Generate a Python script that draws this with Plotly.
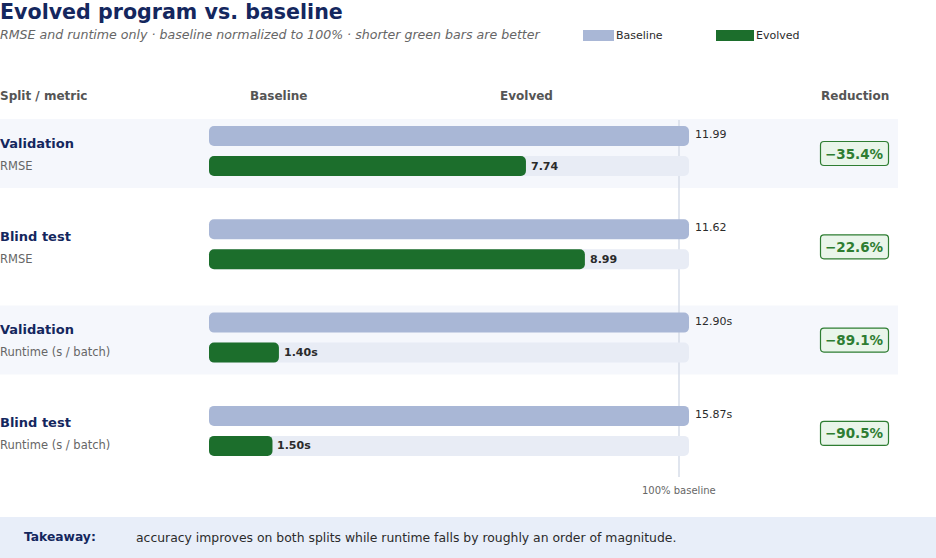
import plotly.graph_objects as go

# ---------------- data ----------------
splits = ["Validation", "Blind test", "Validation", "Blind test"]
metrics = ["RMSE", "RMSE", "Runtime (s / batch)", "Runtime (s / batch)"]
baseline_vals = [11.99, 11.62, 12.90, 15.87]
evolved_vals = [7.74, 8.99, 1.40, 1.50]
units = ["", "", "s", "s"]
legend_names = ["Baseline", "Evolved"]
column_headers = ["Split / metric", "Baseline", "Evolved", "Reduction"]
title_text = "Evolved program vs. baseline"
subtitle_text = ("RMSE and runtime only · baseline normalized to 100% · "
                 "shorter green bars are better")
takeaway_label = "Takeaway:"
takeaway_text = ("accuracy improves on both splits while runtime falls by "
                 "roughly an order of magnitude.")
baseline_line_label = "100% baseline"

# ---------------- style ----------------
W, H = 936, 558
FONT = "DejaVu Sans"
NAVY = "#14275e"
GREY = "#666666"
HDR = "#555555"
DARK = "#2b2b2b"
C_BASE = "#a9b7d6"
C_EVO = "#1c6e2c"
C_TRACK = "#e8ecf5"
C_BAND = "#f5f7fc"
C_LINE = "#d6dce9"
C_BADGE_BG = "#e9f5ea"
C_BADGE_BD = "#2e7d32"
C_TAKE = "#e8eef9"

PX_PER_PCT = 4.6          # horizontal scale
ZERO_PX = 219             # pixel of 0 %
CAP = 10 / PX_PER_PCT     # round-cap extension of bars (in % units)
ROW_PX = 93.3             # vertical spacing of rows
ROW0_PX = 153.5           # pixel centre of first row
OFF_B = -17.5 / ROW_PX    # baseline bar offset within a row
OFF_E = 12.5 / ROW_PX     # evolved bar offset within a row
BAR_W = 20 / ROW_PX

x0 = -ZERO_PX / PX_PER_PCT
x1 = x0 + W / PX_PER_PCT
y_top = -ROW0_PX / ROW_PX
y_bot = y_top + H / ROW_PX


def px(xp):
    return xp / W


def py(yp):
    return 1 - yp / H


def rounded_rect(xl, xr, yt, yb, r):
    """SVG path (paper coords) of a rounded rectangle given in pixels."""
    pts = [
        f"M{px(xl + r)},{py(yt)}", f"L{px(xr - r)},{py(yt)}",
        f"Q{px(xr)},{py(yt)} {px(xr)},{py(yt + r)}", f"L{px(xr)},{py(yb - r)}",
        f"Q{px(xr)},{py(yb)} {px(xr - r)},{py(yb)}", f"L{px(xl + r)},{py(yb)}",
        f"Q{px(xl)},{py(yb)} {px(xl)},{py(yb - r)}", f"L{px(xl)},{py(yt + r)}",
        f"Q{px(xl)},{py(yt)} {px(xl + r)},{py(yt)}", "Z",
    ]
    return " ".join(pts)


rows = list(range(len(splits)))
evo_pct = [e / b * 100 for e, b in zip(evolved_vals, baseline_vals)]
reductions = [p - 100 for p in evo_pct]

fig = go.Figure()

# track behind evolved bars
fig.add_trace(go.Bar(
    orientation="h", y=[r + OFF_E for r in rows], x=[100 + 2 * CAP] * len(rows),
    base=-CAP, width=BAR_W, marker=dict(color=C_TRACK, cornerradius=5, line_width=0),
    hoverinfo="skip", showlegend=False))
# baseline bars
fig.add_trace(go.Bar(
    orientation="h", y=[r + OFF_B for r in rows], x=[100 + 2 * CAP] * len(rows),
    base=-CAP, width=BAR_W, name=legend_names[0],
    marker=dict(color=C_BASE, cornerradius=5, line_width=0), showlegend=False))
# evolved bars
fig.add_trace(go.Bar(
    orientation="h", y=[r + OFF_E for r in rows], x=[p + 2 * CAP for p in evo_pct],
    base=-CAP, width=BAR_W, name=legend_names[1],
    marker=dict(color=C_EVO, cornerradius=5, line_width=0), showlegend=False))

shapes = []
ann = []

# row bands
for r in rows:
    if r % 2 == 0:
        shapes.append(dict(type="rect", xref="paper", yref="y", x0=0, x1=px(898),
                           y0=r - 34.5 / ROW_PX, y1=r + 34.5 / ROW_PX,
                           fillcolor=C_BAND, line_width=0, layer="below"))

# 100% reference line
shapes.append(dict(type="line", xref="x", yref="paper", x0=100, x1=100,
                   y0=py(477), y1=py(120), line=dict(color=C_LINE, width=1.5),
                   layer="below"))
ann.append(dict(text=baseline_line_label, x=100, xref="x", y=py(490), yref="paper",
                showarrow=False, xanchor="center", yanchor="middle",
                font=dict(family=FONT, size=10, color=GREY)))

# takeaway box
shapes.append(dict(type="rect", xref="paper", yref="paper", x0=0, x1=1,
                   y0=0, y1=py(517), fillcolor=C_TAKE, line_width=0, layer="below"))
ann.append(dict(text="<b>" + takeaway_label + "</b>", x=px(24), y=py(537),
                xref="paper", yref="paper", showarrow=False, xanchor="left",
                xshift=-2, yanchor="middle",
                font=dict(family=FONT, size=12.3, color=NAVY)))
ann.append(dict(text=takeaway_text, x=px(136), y=py(537),
                xref="paper", yref="paper", showarrow=False, xanchor="left",
                xshift=-2, yanchor="middle",
                font=dict(family=FONT, size=12.4, color=DARK)))

# title & subtitle
ann.append(dict(text="<b>" + title_text + "</b>", x=0, y=py(11.5), xref="paper",
                yref="paper", showarrow=False, xanchor="left", yanchor="middle",
                xshift=-2, font=dict(family=FONT, size=20.6, color=NAVY)))
ann.append(dict(text="<i>" + subtitle_text + "</i>", x=0, y=py(34), xref="paper",
                yref="paper", showarrow=False, xanchor="left", yanchor="middle",
                xshift=-2, font=dict(family=FONT, size=12.6, color=GREY)))

# legend
for (name, col, rx0, rx1) in [(legend_names[0], C_BASE, 583, 614),
                               (legend_names[1], C_EVO, 716, 754)]:
    shapes.append(dict(type="rect", xref="paper", yref="paper", x0=px(rx0), x1=px(rx1),
                       y0=py(41), y1=py(30), fillcolor=col, line_width=0))
    ann.append(dict(text=name, x=px(rx1), y=py(35.5), xref="paper", yref="paper",
                    showarrow=False, xanchor="left", yanchor="middle",
                    font=dict(family=FONT, size=11, color=DARK)))

# column headers
for text, xc, anchor, sh in zip(column_headers, [0, 278, 526, 855],
                                ["left", "center", "center", "center"],
                                [-2, 0, 0, 0]):
    ann.append(dict(text="<b>" + text + "</b>", x=px(xc), y=py(96), xref="paper",
                    yref="paper", showarrow=False, xanchor=anchor, yanchor="middle",
                    xshift=sh, font=dict(family=FONT, size=12, color=HDR)))

# per-row labels
for r in rows:
    ann.append(dict(text="<b>" + splits[r] + "</b>", x=0, xref="paper", xshift=-2,
                    y=r - 10.5 / ROW_PX, yref="y", showarrow=False, xanchor="left",
                    yanchor="middle", font=dict(family=FONT, size=13, color=NAVY)))
    ann.append(dict(text=metrics[r], x=0, xref="paper", xshift=-2,
                    y=r + 12 / ROW_PX, yref="y", showarrow=False, xanchor="left",
                    yanchor="middle", font=dict(family=FONT, size=11.5, color=GREY)))
    ann.append(dict(text=f"{baseline_vals[r]:.2f}{units[r]}", x=100 + CAP, xref="x",
                    xshift=4, y=r + OFF_B - 1.5 / ROW_PX, yref="y", showarrow=False,
                    xanchor="left", yanchor="middle",
                    font=dict(family=FONT, size=11, color=DARK)))
    ann.append(dict(text=f"<b>{evolved_vals[r]:.2f}{units[r]}</b>", x=evo_pct[r] + CAP,
                    xref="x", xshift=3, y=r + OFF_E, yref="y", showarrow=False,
                    xanchor="left", yanchor="middle",
                    font=dict(family=FONT, size=11, color=DARK)))
    # badge
    cy = ROW0_PX + r * ROW_PX
    shapes.append(dict(type="path", xref="paper", yref="paper",
                       path=rounded_rect(820.5, 888.5, cy - 12, cy + 12, 3.5),
                       fillcolor=C_BADGE_BG, line=dict(color=C_BADGE_BD, width=1.2)))
    ann.append(dict(text=f"<b>\u2212{abs(reductions[r]):.1f}%</b>", x=px(854.5),
                    xref="paper", y=r, yref="y", showarrow=False, xanchor="center",
                    yanchor="middle",
                    font=dict(family=FONT, size=13.5, color=C_BADGE_BD)))

fig.update_layout(
    width=W, height=H, margin=dict(l=0, r=0, t=0, b=0),
    paper_bgcolor="white", plot_bgcolor="rgba(0,0,0,0)",
    barmode="overlay", showlegend=False,
    xaxis=dict(range=[x0, x1], domain=[0, 1], visible=False, fixedrange=True),
    yaxis=dict(range=[y_bot, y_top], domain=[0, 1], visible=False, fixedrange=True),
    shapes=shapes, annotations=ann, font=dict(family=FONT),
)

fig.write_html("out.html")
